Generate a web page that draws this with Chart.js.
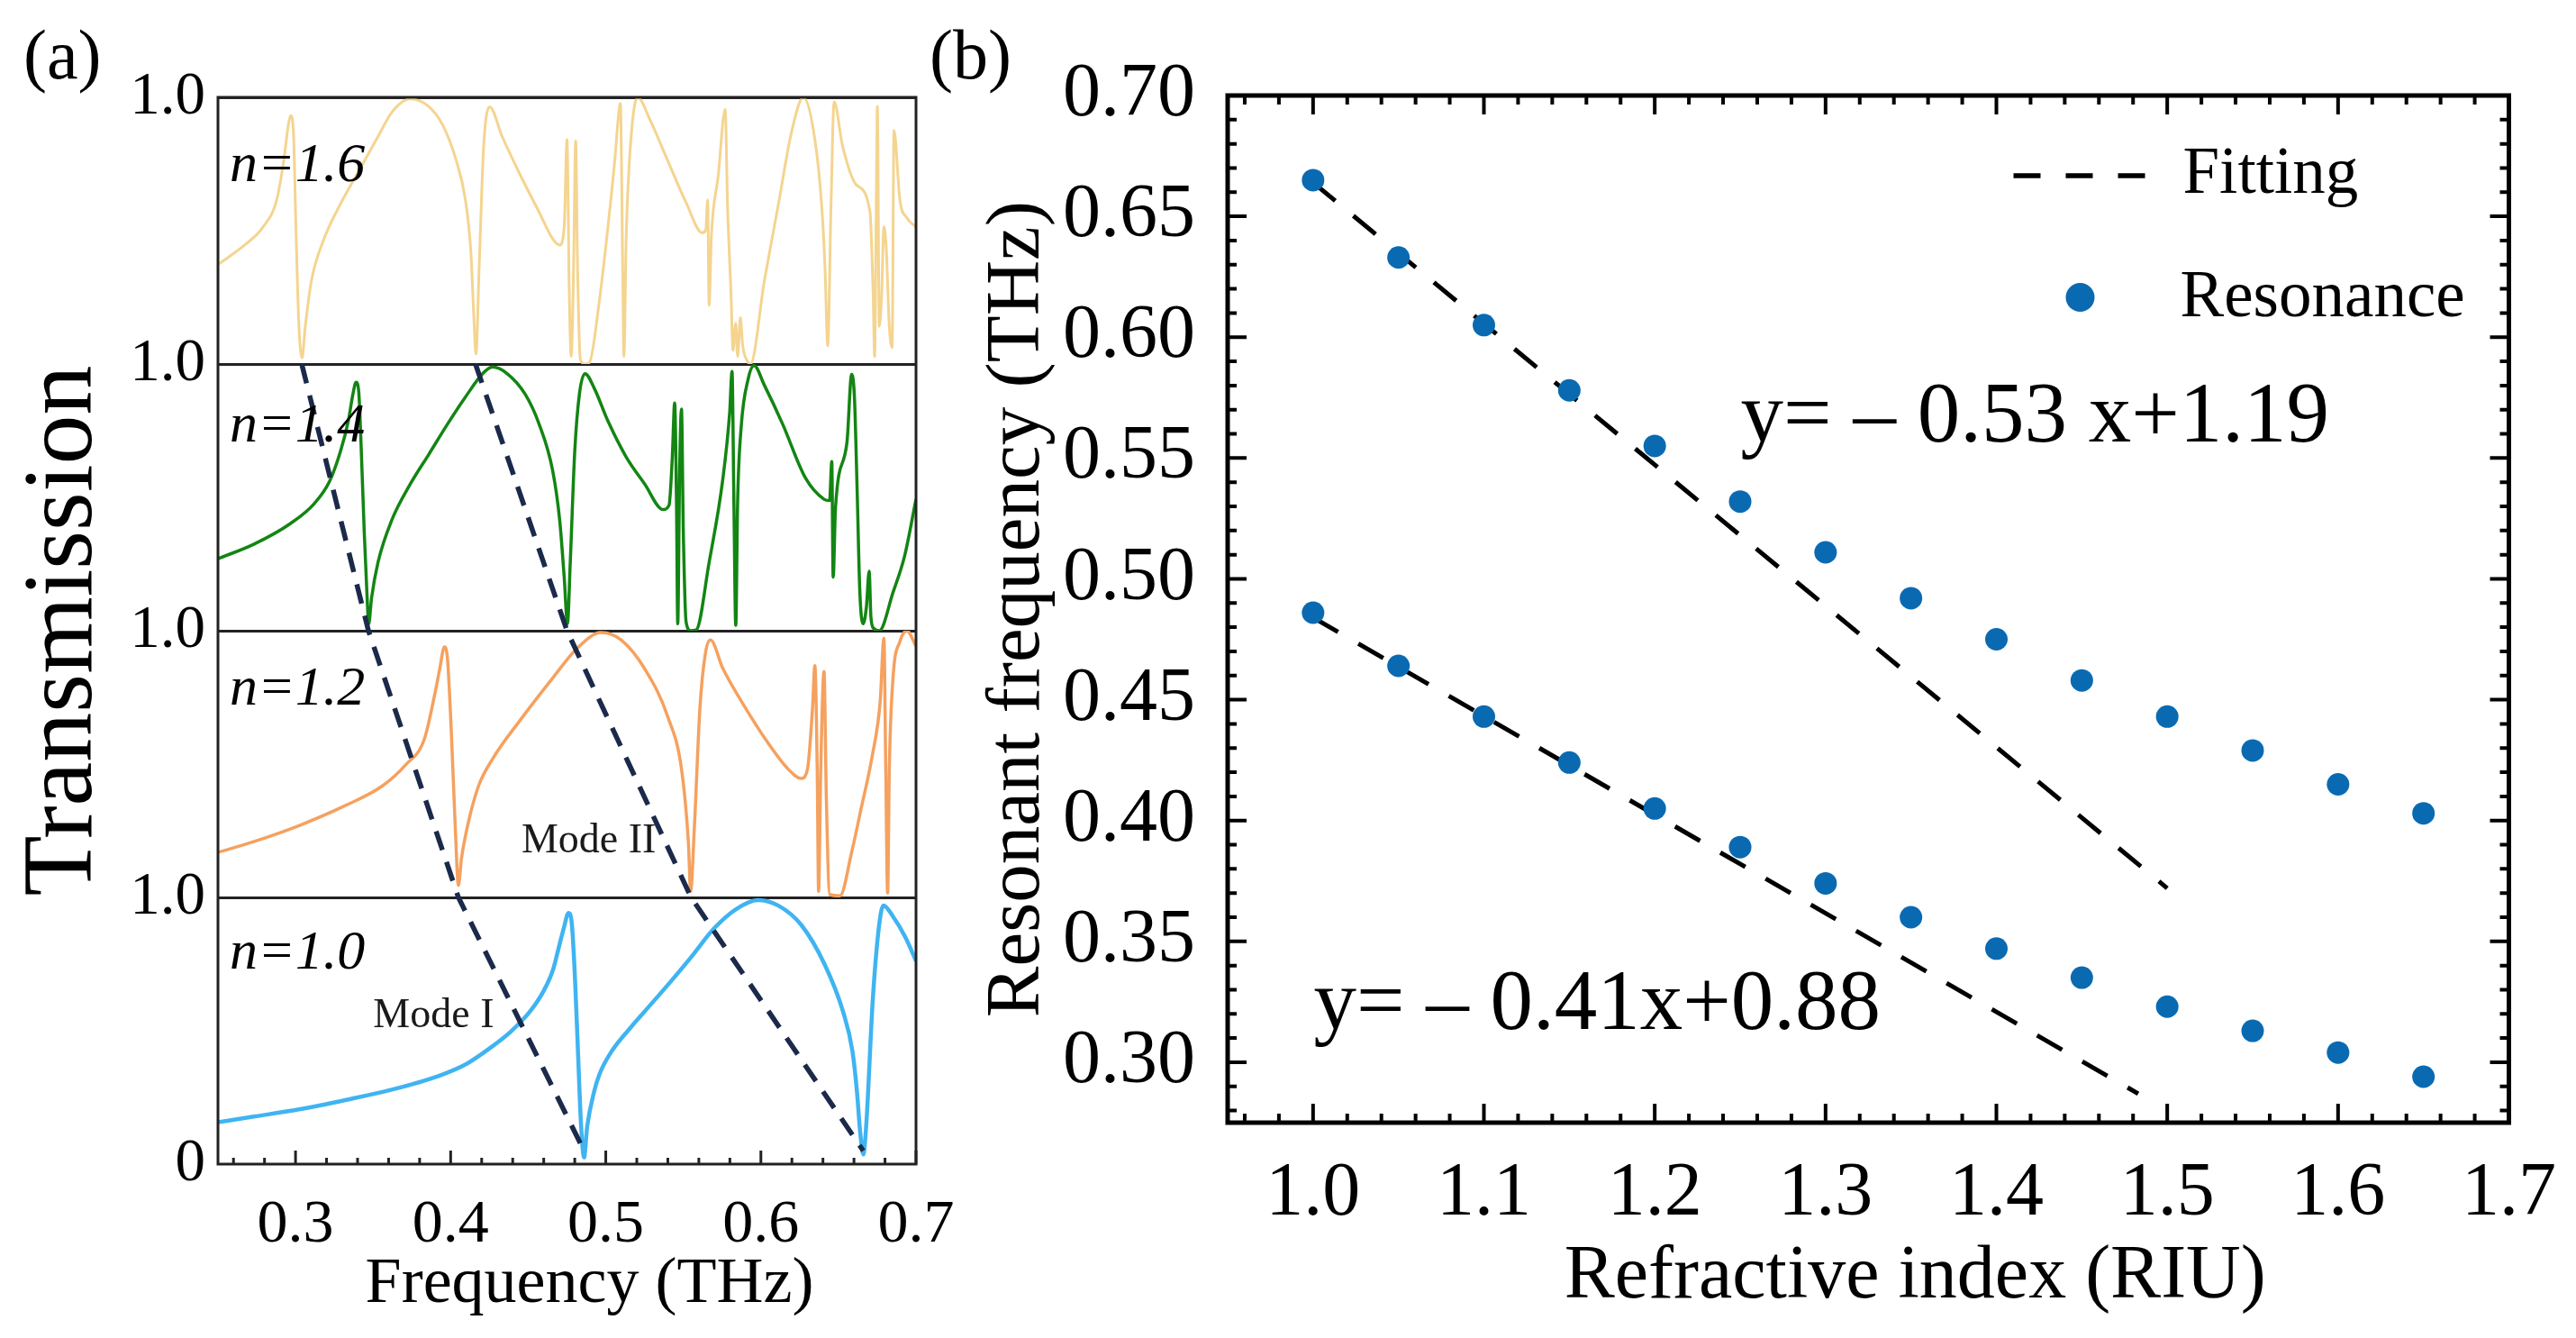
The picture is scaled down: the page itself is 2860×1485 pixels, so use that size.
<!DOCTYPE html>
<html>
<head>
<meta charset="utf-8">
<script src="https://cdn.jsdelivr.net/npm/chart.js@4.4.1/dist/chart.umd.min.js"></script>
<style>
html,body{margin:0;padding:0;background:#fff;width:2860px;height:1485px;overflow:hidden;}
canvas{position:absolute;top:0;}
#ca{left:0;}
#cb{left:1040px;}
.lab{position:absolute;font-family:"Liberation Serif","Times New Roman",serif;font-size:78px;line-height:78px;color:#000;}
</style>
</head>
<body>
<div class="lab" style="left:26px;top:22px">(a)</div>
<div class="lab" style="left:1032px;top:22px">(b)</div>
<canvas id="ca" width="1100" height="1485"></canvas>
<canvas id="cb" width="1820" height="1485"></canvas>
<script>
// ---------------- Panel (a): transmission spectra [frequency THz, transmission] ----------------
const spectrumN10 = [[0.250,0.157],[0.273,0.178],[0.303,0.206],[0.332,0.240],[0.362,0.279],[0.392,0.330],[0.410,0.375],[0.427,0.442],[0.439,0.498],[0.451,0.571],[0.460,0.650],[0.466,0.729],[0.470,0.819],[0.473,0.886],[0.476,0.942],[0.478,0.908],[0.480,0.717],[0.482,0.435],[0.484,0.154],[0.486,0.025],[0.488,0.140],[0.4925,0.272],[0.496,0.338],[0.504,0.425],[0.516,0.512],[0.525,0.572],[0.540,0.672],[0.555,0.776],[0.570,0.885],[0.584,0.956],[0.598,0.990],[0.611,0.970],[0.626,0.897],[0.641,0.750],[0.653,0.571],[0.659,0.424],[0.662,0.267],[0.664,0.120],[0.666,0.036],[0.668,0.154],[0.672,0.604],[0.676,0.885],[0.679,0.970],[0.685,0.930],[0.693,0.852],[0.700,0.762]];
const spectrumN12 = [[0.250,0.169],[0.273,0.209],[0.303,0.271],[0.332,0.344],[0.356,0.418],[0.371,0.497],[0.383,0.593],[0.390,0.768],[0.393,0.858],[0.396,0.939],[0.398,0.892],[0.4006,0.598],[0.403,0.260],[0.405,0.045],[0.407,0.147],[0.411,0.271],[0.418,0.418],[0.427,0.519],[0.445,0.666],[0.466,0.824],[0.481,0.931],[0.497,0.993],[0.510,0.965],[0.525,0.858],[0.540,0.677],[0.549,0.474],[0.5533,0.203],[0.5547,0.023],[0.5571,0.260],[0.5607,0.711],[0.5642,0.914],[0.5675,0.965],[0.5755,0.858],[0.590,0.711],[0.605,0.576],[0.617,0.485],[0.626,0.446],[0.630,0.480],[0.6333,0.711],[0.6348,0.869],[0.6363,0.485],[0.6372,0.023],[0.6386,0.485],[0.6407,0.847],[0.6422,0.373],[0.6443,0.011],[0.651,0.006],[0.6585,0.169],[0.6644,0.327],[0.6718,0.531],[0.6769,0.734],[0.6793,0.971],[0.6805,0.485],[0.6817,0.017],[0.6828,0.485],[0.6852,0.824],[0.6896,0.959],[0.6941,0.999],[0.700,0.942]];
const spectrumN14 = [[0.250,0.270],[0.273,0.324],[0.297,0.403],[0.312,0.476],[0.322,0.561],[0.329,0.673],[0.334,0.786],[0.337,0.887],[0.339,0.932],[0.3407,0.899],[0.3422,0.707],[0.3443,0.369],[0.3460,0.144],[0.3472,0.026],[0.3490,0.122],[0.3532,0.257],[0.362,0.414],[0.374,0.550],[0.386,0.662],[0.398,0.775],[0.4095,0.876],[0.421,0.966],[0.427,0.989],[0.436,0.966],[0.448,0.887],[0.457,0.775],[0.4658,0.599],[0.4703,0.414],[0.4732,0.201],[0.4753,0.026],[0.4771,0.255],[0.4800,0.673],[0.4830,0.887],[0.4866,0.964],[0.4925,0.910],[0.5014,0.786],[0.5132,0.651],[0.5251,0.550],[0.5370,0.454],[0.5408,0.471],[0.5429,0.651],[0.5444,0.854],[0.5456,0.482],[0.5464,0.026],[0.5476,0.595],[0.5488,0.831],[0.5500,0.369],[0.5518,0.032],[0.5547,0.000],[0.5583,0.003],[0.5666,0.255],[0.5755,0.570],[0.5799,0.820],[0.5814,0.972],[0.5826,0.482],[0.5838,0.020],[0.5850,0.482],[0.5873,0.764],[0.5918,0.944],[0.5956,0.994],[0.6022,0.921],[0.6140,0.775],[0.6288,0.572],[0.6407,0.493],[0.6443,0.488],[0.6457,0.634],[0.6466,0.201],[0.6481,0.462],[0.6555,0.707],[0.6585,0.961],[0.6603,0.876],[0.6620,0.538],[0.6638,0.144],[0.6659,0.026],[0.6680,0.088],[0.6698,0.223],[0.6709,0.054],[0.6727,0.009],[0.6763,0.000],[0.6852,0.144],[0.6926,0.279],[0.7000,0.493]];
const spectrumN16 = [[0.250,0.373],[0.2672,0.446],[0.2791,0.514],[0.2879,0.616],[0.2924,0.763],[0.2954,0.898],[0.2968,0.932],[0.2986,0.876],[0.3004,0.480],[0.3022,0.141],[0.3042,0.023],[0.3063,0.141],[0.3102,0.311],[0.3176,0.458],[0.3294,0.605],[0.3413,0.729],[0.3532,0.853],[0.3621,0.944],[0.3739,0.994],[0.3858,0.966],[0.3947,0.898],[0.4036,0.763],[0.4095,0.616],[0.4130,0.424],[0.4148,0.198],[0.4163,0.037],[0.4184,0.367],[0.4213,0.819],[0.4252,0.964],[0.4332,0.853],[0.4451,0.706],[0.4569,0.571],[0.4658,0.469],[0.4703,0.446],[0.4732,0.514],[0.4750,0.842],[0.4765,0.254],[0.4777,0.028],[0.4791,0.311],[0.4806,0.836],[0.4818,0.367],[0.4836,0.017],[0.4866,0.000],[0.4895,0.006],[0.4955,0.220],[0.5014,0.514],[0.5058,0.763],[0.5082,0.932],[0.5094,0.977],[0.5109,0.367],[0.5117,0.028],[0.5132,0.480],[0.5162,0.842],[0.5206,1.000],[0.5281,0.921],[0.5399,0.763],[0.5518,0.605],[0.5622,0.492],[0.5645,0.503],[0.5657,0.616],[0.5666,0.220],[0.5681,0.480],[0.5725,0.706],[0.5770,0.955],[0.5785,0.593],[0.5808,0.254],[0.5820,0.051],[0.5838,0.153],[0.5850,0.028],[0.5868,0.174],[0.5882,0.073],[0.5918,0.006],[0.5933,0.000],[0.6022,0.311],[0.6111,0.593],[0.6200,0.876],[0.6274,1.000],[0.6348,0.842],[0.6392,0.593],[0.6413,0.367],[0.6431,0.068],[0.6452,0.593],[0.6472,0.983],[0.6526,0.819],[0.6615,0.672],[0.6703,0.571],[0.6724,0.254],[0.6733,0.028],[0.6742,0.480],[0.6751,0.966],[0.6763,0.141],[0.6778,0.254],[0.6793,0.514],[0.6808,0.435],[0.6828,0.141],[0.6846,0.062],[0.6858,0.876],[0.6896,0.616],[0.6941,0.548],[0.7000,0.514]];
const panelLabels = ['n=1.0', 'n=1.2', 'n=1.4', 'n=1.6'];
// resonance dips tracked across the panels (panel boundary index 3..0)
const modeIDips  = [0.304, 0.347, 0.405, 0.486];
const modeIIDips = [0.416, 0.475, 0.555, 0.666];
const guideLevels = [3, 2, 1, 0.05];
const freqTickStep = 0.02;

// ---------------- Panel (b): resonant frequency vs refractive index ----------------
const riu = [1.00, 1.05, 1.10, 1.15, 1.20, 1.25, 1.30, 1.35, 1.40, 1.45, 1.50, 1.55, 1.60, 1.65];
const modeIIRes = [0.665, 0.633, 0.605, 0.578, 0.555, 0.532, 0.511, 0.492, 0.475, 0.458, 0.443, 0.429, 0.415, 0.403];
const modeIRes  = [0.486, 0.464, 0.443, 0.424, 0.405, 0.389, 0.374, 0.360, 0.347, 0.335, 0.323, 0.313, 0.304, 0.294];
const fitIIX = [1.00, 1.50];
const fitIIY = [0.664, 0.372];
const fitIX  = [1.00, 1.483];
const fitIY  = [0.484, 0.287];
const fitLabelII = 'y= \u2013 0.53 x+1.19';
const fitLabelI  = 'y= \u2013 0.41x+0.88';

Chart.defaults.font.family = '"Liberation Serif", "Times New Roman", serif';
Chart.defaults.color = '#000';
Chart.defaults.animation = false;

const SERIF = '"Liberation Serif", "Times New Roman", serif';
const isMajor = (v, step) => Math.abs(v / step - Math.round(v / step)) < 1e-6;
const toXY = arr => arr.map(p => ({x: p[0], y: p[1]}));
const zipXY = (xs, ys) => xs.map((x, i) => ({x, y: ys[i]}));

const inwardTicks = {
  id: 'inwardTicks',
  afterDatasetsDraw(chart, args, o) {
    const {ctx, chartArea: a} = chart;
    ctx.save();
    ctx.setLineDash([]);
    ctx.strokeStyle = o.color;
    ctx.lineWidth = o.width;
    ctx.beginPath();
    const xs = chart.scales[o.xId];
    xs.ticks.forEach(t => {
      const p = xs.getPixelForValue(t.value);
      const L = t.label ? o.major : o.minor;
      ctx.moveTo(p, a.bottom); ctx.lineTo(p, a.bottom - L);
      if (o.top) { ctx.moveTo(p, a.top); ctx.lineTo(p, a.top + L); }
    });
    if (o.yId) {
      const ys = chart.scales[o.yId];
      ys.ticks.forEach(t => {
        const p = ys.getPixelForValue(t.value);
        const L = t.label ? o.major : o.minor;
        ctx.moveTo(a.left, p); ctx.lineTo(a.left + L, p);
        ctx.moveTo(a.right, p); ctx.lineTo(a.right - L, p);
      });
    }
    ctx.stroke();
    ctx.lineWidth = o.frame;
    ctx.strokeStyle = o.frameColor;
    ctx.strokeRect(a.left, a.top, a.right - a.left, a.bottom - a.top);
    // x-axis title, placed under the axis as in the original figure
    if (o.xTitle) {
      ctx.fillStyle = '#000';
      ctx.font = o.xTitleSize + 'px ' + SERIF;
      ctx.textAlign = 'center';
      ctx.textBaseline = 'middle';
      ctx.fillText(o.xTitle, (a.left + a.right) / 2 + o.xTitleShift, a.bottom + o.xTitleDrop);
    }
    ctx.restore();
  }
};

// ---------- Chart (a) ----------
const panelIds = ['y10', 'y12', 'y14', 'y16'];
const spectra = [spectrumN10, spectrumN12, spectrumN14, spectrumN16];
const spectrumColors = ['#3fb4f1', '#f5a15f', '#138513', '#f4d48f'];
const spectrumWidths = [4.5, 3.5, 3.5, 3];

const panelNotes = {
  id: 'panelNotes',
  afterDatasetsDraw(chart) {
    const {ctx, chartArea: a, scales} = chart;
    ctx.save();
    ctx.fillStyle = '#000';
    ctx.font = 'italic 62px ' + SERIF;
    ctx.textAlign = 'left';
    ctx.textBaseline = 'alphabetic';
    const noteLevel = [0.734, 0.723, 0.709, 0.686];
    panelIds.forEach((id, i) => {
      ctx.fillText(panelLabels[i], a.left + 13, scales[id].getPixelForValue(noteLevel[i]));
    });
    ctx.fillStyle = '#1a1a1a';
    ctx.font = '46px ' + SERIF;
    ctx.textAlign = 'center';
    ctx.textBaseline = 'middle';
    ctx.fillText('Mode II', scales.x.getPixelForValue(0.489), scales.y12.getPixelForValue(0.21));
    ctx.fillText('Mode I', scales.x.getPixelForValue(0.389), scales.y10.getPixelForValue(0.556));
    ctx.restore();
  }
};

function panelAxis(i) {
  return {
    type: 'linear', position: 'left', stack: 'panels', stackWeight: 1,
    min: 0, max: 1,
    afterFit(s) { s.width = 112; },
    ticks: {
      stepSize: 1, padding: 14, font: {family: SERIF, size: 67}, color: '#000',
      callback: v => v === 1 ? '1.0' : (i === 0 && v === 0 ? '0' : '')
    },
    grid: {
      drawTicks: false, lineWidth: 3,
      color: c => (c.tick && c.tick.value === 1) ? '#222' : 'rgba(0,0,0,0)'
    },
    border: {display: false}
  };
}

const datasetsA = [
  {label: 'Mode I', data: zipXY(modeIDips, guideLevels), yAxisID: 'yAll', showLine: true,
   borderColor: '#1b2a4a', borderWidth: 5.5, borderDash: [22, 14], pointRadius: 0, tension: 0},
  {label: 'Mode II', data: zipXY(modeIIDips, guideLevels), yAxisID: 'yAll', showLine: true,
   borderColor: '#1b2a4a', borderWidth: 5.5, borderDash: [22, 14], pointRadius: 0, tension: 0}
];
spectra.forEach((s, i) => {
  datasetsA.push({
    label: panelLabels[i], data: toXY(s), yAxisID: panelIds[i], showLine: true,
    borderColor: spectrumColors[i], borderWidth: spectrumWidths[i],
    pointRadius: 0, pointHoverRadius: 0, cubicInterpolationMode: 'monotone'
  });
});

const scalesA = {
  x: {
    type: 'linear', position: 'bottom', min: 0.25, max: 0.70,
    afterFit(s) { s.height = 193; },
    ticks: {
      stepSize: freqTickStep, includeBounds: false, autoSkip: false, maxRotation: 0, minRotation: 0,
      padding: 19, font: {family: SERIF, size: 68}, color: '#000',
      callback: v => isMajor(v, 0.1) ? v.toFixed(1) : ''
    },
    grid: {display: false},
    border: {display: false},
    title: {display: false}
  },
  yAll: {
    type: 'linear', position: 'left', min: 0, max: 4, weight: 1,
    afterFit(s) { s.width = 130; },
    ticks: {display: false},
    grid: {display: false},
    border: {display: false},
    title: {display: true, text: 'Transmission', font: {family: SERIF, size: 110}, color: '#000', padding: {top: 6, bottom: 0}}
  }
};
panelIds.forEach((id, i) => { scalesA[id] = panelAxis(i); });

new Chart(document.getElementById('ca'), {
  type: 'scatter',
  data: {datasets: datasetsA},
  options: {
    responsive: false, animation: false, events: [],
    layout: {padding: {left: 0, top: 108, right: 83, bottom: 0}, autoPadding: false},
    scales: scalesA,
    plugins: {
      legend: {display: false}, tooltip: {enabled: false},
      inwardTicks: {xId: 'x', top: false, major: 15, minor: 7, width: 3, color: '#222', frame: 3, frameColor: '#222',
                    xTitle: 'Frequency (THz)', xTitleSize: 72, xTitleShift: 25, xTitleDrop: 134}
    }
  },
  plugins: [inwardTicks, panelNotes]
});

// ---------- Chart (b) ----------
const notesB = {
  id: 'notesB',
  afterDatasetsDraw(chart) {
    const {ctx, chartArea: a, scales} = chart;
    ctx.save();
    // legend
    ctx.strokeStyle = '#000';
    ctx.lineWidth = 5.5;
    ctx.setLineDash([30, 28]);
    ctx.beginPath();
    ctx.moveTo(a.right - 550, a.top + 89);
    ctx.lineTo(a.right - 404, a.top + 89);
    ctx.stroke();
    ctx.setLineDash([]);
    ctx.fillStyle = '#0a6ab1';
    ctx.beginPath();
    ctx.arc(a.right - 476, a.top + 224, 16, 0, Math.PI * 2);
    ctx.fill();
    ctx.fillStyle = '#000';
    ctx.font = '73px ' + SERIF;
    ctx.textAlign = 'left';
    ctx.textBaseline = 'alphabetic';
    ctx.fillText('Fitting', a.right - 362, a.top + 108);
    ctx.fillText('Resonance', a.right - 365, a.top + 245);
    // fitted equations
    ctx.font = '95px ' + SERIF;
    ctx.fillText(fitLabelII, scales.x.getPixelForValue(1.2503), scales.y.getPixelForValue(0.5568));
    ctx.fillText(fitLabelI, scales.x.getPixelForValue(1.0003), scales.y.getPixelForValue(0.3138));
    ctx.restore();
  }
};

new Chart(document.getElementById('cb'), {
  type: 'scatter',
  data: {
    datasets: [
      {label: 'Resonance', data: zipXY(riu, modeIIRes), pointRadius: 12.5, pointHoverRadius: 12.5,
       backgroundColor: '#0a6ab1', borderWidth: 0},
      {label: 'Resonance', data: zipXY(riu, modeIRes), pointRadius: 12.5, pointHoverRadius: 12.5,
       backgroundColor: '#0a6ab1', borderWidth: 0},
      {label: 'Fitting', data: zipXY(fitIIX, fitIIY), showLine: true, borderColor: '#000', borderWidth: 5,
       borderDash: [32, 26], pointRadius: 0, tension: 0},
      {label: 'Fitting', data: zipXY(fitIX, fitIY), showLine: true, borderColor: '#000', borderWidth: 5,
       borderDash: [32, 26], pointRadius: 0, tension: 0}
    ]
  },
  options: {
    responsive: false, animation: false, events: [],
    layout: {padding: {left: 0, top: 106, right: 67, bottom: 0}, autoPadding: false},
    scales: {
      x: {
        type: 'linear', position: 'bottom', min: 0.95, max: 1.70,
        afterFit(s) { s.height = 239; },
        ticks: {
          stepSize: 0.02, includeBounds: false, autoSkip: false, maxRotation: 0, minRotation: 0,
          padding: 22, font: {family: SERIF, size: 84}, color: '#000',
          callback: v => isMajor(v, 0.1) ? v.toFixed(1) : ''
        },
        grid: {display: false},
        border: {display: false},
        title: {display: false}
      },
      y: {
        type: 'linear', position: 'left', min: 0.275, max: 0.70,
        afterFit(s) { s.width = 323; },
        ticks: {
          stepSize: 0.01, includeBounds: false, autoSkip: false,
          padding: 28, font: {family: SERIF, size: 84}, color: '#000',
          callback: v => isMajor(v, 0.05) ? v.toFixed(2) : ''
        },
        grid: {display: false},
        border: {display: false},
        title: {display: true, text: 'Resonant frequency (THz)', font: {family: SERIF, size: 85}, color: '#000', padding: {top: 40, bottom: 0}}
      }
    },
    plugins: {
      legend: {display: false}, tooltip: {enabled: false},
      inwardTicks: {xId: 'x', yId: 'y', top: true, major: 21, minor: 10, width: 4, color: '#000', frame: 5, frameColor: '#000',
                    xTitle: 'Refractive index (RIU)', xTitleSize: 84, xTitleShift: 52, xTitleDrop: 172}
    }
  },
  plugins: [inwardTicks, notesB]
});
</script>
</body>
</html>
